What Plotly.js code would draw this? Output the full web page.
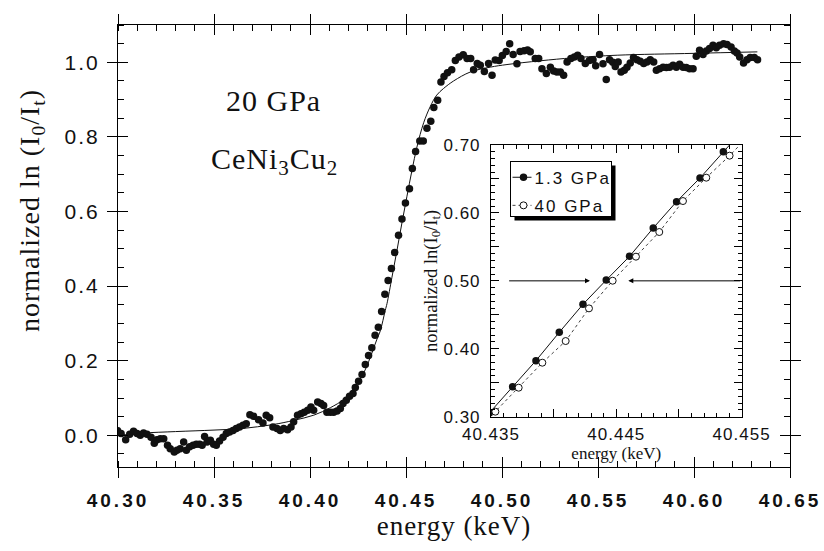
<!DOCTYPE html>
<html>
<head>
<meta charset="utf-8">
<script src="https://cdn.plot.ly/plotly-3.0.1.min.js"></script>
<style>
  html, body { margin: 0; padding: 0; background: #fff; }
  #chart { width: 824px; height: 551px; }
  .xtick text { letter-spacing: 3px; }
  .ytick text { letter-spacing: 2px; }
  .x2tick text, .y2tick text { letter-spacing: 1px; }
  .legendtext { letter-spacing: 2px; }
  .g-xtitle text { letter-spacing: 1px; }
  .annotation-text { letter-spacing: 1px; }
</style>
</head>
<body>
<div id="chart"></div>
<script>
// ---- 20 GPa edge scan (normalized absorption vs energy) ----
const energy = [
  40.2998, 40.3016, 40.3040, 40.3061, 40.3081, 40.3099, 40.3116, 40.3133, 40.3151, 40.3172,
  40.3189, 40.3203, 40.3220, 40.3238, 40.3258, 40.3272, 40.3293, 40.3307, 40.3324, 40.3342,
  40.3356, 40.3373, 40.3391, 40.3408, 40.3425, 40.3438, 40.3451, 40.3464, 40.3481, 40.3498,
  40.3512, 40.3529, 40.3547, 40.3564, 40.3581, 40.3599, 40.3616, 40.3633, 40.3651, 40.3668,
  40.3687, 40.3706, 40.3732, 40.3755, 40.3772, 40.3790, 40.3807, 40.3828, 40.3845, 40.3863,
  40.3883, 40.3901, 40.3915, 40.3935, 40.3953, 40.3970, 40.3988, 40.4005, 40.4019, 40.4040,
  40.4057, 40.4071, 40.4088, 40.4106, 40.4123, 40.4141, 40.4158, 40.4172, 40.4189, 40.4206,
  40.4224, 40.4236, 40.4253, 40.4271, 40.4288, 40.4305, 40.4322, 40.4339, 40.4356, 40.4373,
  40.4390, 40.4407, 40.4424, 40.4441, 40.4461, 40.4479, 40.4497, 40.4518, 40.4533, 40.4550,
  40.4572, 40.4590, 40.4609, 40.4629, 40.4645, 40.4665, 40.4682, 40.4698, 40.4716, 40.4738,
  40.4757, 40.4776, 40.4798, 40.4818, 40.4837, 40.4852, 40.4871, 40.4887, 40.4908, 40.4930,
  40.4948, 40.4965, 40.4985, 40.5002, 40.5022, 40.5040, 40.5058, 40.5078, 40.5094, 40.5115,
  40.5133, 40.5147, 40.5173, 40.5191, 40.5208, 40.5231, 40.5252, 40.5269, 40.5286, 40.5304,
  40.5321, 40.5339, 40.5359, 40.5377, 40.5394, 40.5411, 40.5434, 40.5455, 40.5474, 40.5488,
  40.5508, 40.5526, 40.5543, 40.5560, 40.5577, 40.5590, 40.5605, 40.5620, 40.5637, 40.5651,
  40.5668, 40.5685, 40.5703, 40.5720, 40.5738, 40.5755, 40.5772, 40.5790, 40.5804, 40.5821,
  40.5839, 40.5856, 40.5873, 40.5891, 40.5908, 40.5925, 40.5943, 40.5960, 40.5977, 40.5995,
  40.6012, 40.6029, 40.6047, 40.6064, 40.6081, 40.6099, 40.6116, 40.6133, 40.6154, 40.6172,
  40.6193, 40.6210, 40.6224, 40.6238, 40.6258, 40.6276, 40.6293, 40.6314, 40.6331
];
const absorption = [
  0.012, 0.005, -0.012, 0.003, 0.011, 0.005, 0.000, 0.006, 0.003, -0.005,
  -0.021, -0.012, -0.009, -0.009, -0.027, -0.036, -0.045, -0.040, -0.036, -0.018,
  -0.040, -0.031, -0.027, -0.024, -0.024, -0.027, -0.003, -0.018, -0.013, -0.024,
  -0.027, -0.015, -0.005, 0.005, 0.009, 0.013, 0.018, 0.022, 0.027, 0.031,
  0.055, 0.051, 0.042, 0.033, 0.054, 0.047, 0.022, 0.018, 0.013, 0.018,
  0.015, 0.022, 0.036, 0.054, 0.058, 0.062, 0.067, 0.076, 0.067, 0.089,
  0.085, 0.080, 0.062, 0.062, 0.062, 0.065, 0.072, 0.085, 0.094, 0.105,
  0.112, 0.128, 0.145, 0.163, 0.190, 0.214, 0.235, 0.268, 0.290, 0.332,
  0.378, 0.415, 0.447, 0.490, 0.536, 0.580, 0.623, 0.661, 0.715, 0.761,
  0.789, 0.789, 0.823, 0.842, 0.879, 0.898, 0.947, 0.962, 0.972, 0.980,
  1.005, 1.014, 1.020, 1.010, 1.010, 0.980, 0.997, 0.992, 0.975, 0.997,
  0.965, 1.006, 1.005, 1.018, 1.029, 1.050, 1.021, 0.996, 1.029, 1.031,
  1.033, 1.028, 1.010, 1.010, 0.983, 0.970, 0.987, 0.977, 0.974, 0.974,
  0.965, 1.001, 1.010, 1.014, 1.019, 1.010, 0.997, 1.005, 1.007, 0.991,
  1.021, 0.996, 0.954, 1.007, 1.000, 0.989, 1.001, 0.974, 0.979, 0.987,
  0.998, 1.013, 1.007, 1.003, 0.997, 1.001, 1.007, 1.001, 0.979, 0.983,
  0.987, 0.986, 0.987, 0.992, 0.987, 0.995, 0.987, 0.986, 0.983, 0.983,
  1.016, 1.032, 1.021, 1.030, 1.037, 1.046, 1.039, 1.046, 1.050, 1.048,
  1.041, 1.030, 1.025, 1.014, 0.998, 1.007, 1.013, 1.013, 1.007
];

// fitted edge profile
const fitEnergy = [
  40.300, 40.313, 40.330, 40.350, 40.364, 40.381, 40.3915, 40.402, 40.4106, 40.4175,
  40.4227, 40.428, 40.4305, 40.4349, 40.4366, 40.4392, 40.4401, 40.4427, 40.4453, 40.4479,
  40.4505, 40.4531, 40.4557, 40.4592, 40.4627, 40.4660, 40.4696, 40.4748, 40.4835, 40.4939,
  40.5026, 40.5199, 40.537, 40.560, 40.600, 40.633
];
const fitAbsorption = [
  0.000, 0.006, 0.010, 0.014, 0.018, 0.029, 0.040, 0.054, 0.074, 0.096,
  0.125, 0.168, 0.197, 0.258, 0.280, 0.335, 0.353, 0.424, 0.496, 0.570,
  0.641, 0.710, 0.773, 0.838, 0.882, 0.912, 0.930, 0.950, 0.974, 0.987,
  0.994, 1.004, 1.012, 1.019, 1.024, 1.028
];

// ---- edge detail: 1.3 GPa vs 40 GPa ----
const lowPEnergy = [40.43487, 40.43673, 40.43859, 40.44045, 40.44234, 40.44420, 40.44606, 40.44795, 40.44981, 40.45168, 40.45354, 40.45540];
const lowPAbs    = [0.3055, 0.3442, 0.3825, 0.4242, 0.4654, 0.5012, 0.5361, 0.5778, 0.6166, 0.6514, 0.6902, 0.7280];
const highPEnergy = [40.43349, 40.43535, 40.43721, 40.43910, 40.44096, 40.44282, 40.44471, 40.44657, 40.44843, 40.45032, 40.45218, 40.45404, 40.45590];
const highPAbs    = [0.2720, 0.3074, 0.3427, 0.3795, 0.4114, 0.4595, 0.5002, 0.5356, 0.5719, 0.6175, 0.6519, 0.6843, 0.7200];

// half-height markers: where each arrow points
const halfLevel = 0.50;
const arrowLeft  = { from: 40.43633, to: 40.4429 };
const arrowRight = { from: 40.455,   to: 40.44596 };

const mainXTicks = [40.30, 40.35, 40.40, 40.45, 40.50, 40.55, 40.60, 40.65];
const mainXLabels = ['40.30', '40.35', '40.40', '40.45', '40.50', '40.55', '40.60', '40.65'];
const mainYTicks = [0.0, 0.2, 0.4, 0.6, 0.8, 1.0];
const mainYLabels = ['0.0', '0.2', '0.4', '0.6', '0.8', '1.0'];

const SANS = 'Liberation Sans, Arial, sans-serif';
const SERIF = 'Liberation Serif, Times New Roman, serif';

// page geometry
const W = 824, H = 551;
const M = { l: 118, r: 34, t: 25, b: 84 };
const PW = W - M.l - M.r, PH = H - M.t - M.b;
const px2x = function (px) { return (px - M.l) / PW; };
const px2y = function (py) { return (H - M.b - py) / PH; };
// legend frame (page pixels) and its drop shadow offset
const LEG = { left: 510.5, top: 161.5, right: 611.5, bottom: 216.5 };
const SHADOW = 4;

const traces = [
  { x: fitEnergy, y: fitAbsorption, mode: 'lines', line: { color: '#111', width: 1, shape: 'spline' },
    showlegend: false, hoverinfo: 'skip' },
  { x: energy, y: absorption, mode: 'markers', marker: { color: '#111', size: 7.5 },
    showlegend: false },
  { x: lowPEnergy, y: lowPAbs, xaxis: 'x2', yaxis: 'y2', name: '1.3 GPa', mode: 'lines+markers',
    legendgroup: 'a', line: { color: '#111', width: 1 }, marker: { color: '#111', size: 7.5 } },
  { x: highPEnergy, y: highPAbs, xaxis: 'x2', yaxis: 'y2', name: '40 GPa', mode: 'lines+markers',
    legendgroup: 'b', line: { color: '#444', width: 1, dash: 'dot' },
    marker: { color: '#fff', size: 7, line: { color: '#111', width: 1 } } },
  // carriers for the inward halves of the main axis ticks
  { x: [], y: [], xaxis: 'x3', yaxis: 'y', showlegend: false },
  { x: [], y: [], xaxis: 'x', yaxis: 'y3', showlegend: false }
];

const layout = {
  width: W, height: H,
  margin: M,
  paper_bgcolor: '#fff', plot_bgcolor: '#fff',
  showlegend: true,
  xaxis: {
    range: [40.30, 40.65], tickmode: 'array', tickvals: mainXTicks, ticktext: mainXLabels,
    showline: true, linecolor: '#000', linewidth: 1, mirror: 'ticks', showgrid: false, zeroline: false,
    ticks: 'outside', ticklen: 10, tickwidth: 1, tickcolor: '#000',
    minor: { tick0: 40.30, dtick: 0.01, ticks: 'inside', ticklen: 6, tickwidth: 1, tickcolor: '#000', showgrid: false },
    tickfont: { family: SANS, size: 19, color: '#111', weight: 'bold' },
    ticklabelstandoff: 6,
    title: { text: 'energy (keV)', font: { family: SERIF, size: 27, color: '#111' }, standoff: 6 }
  },
  yaxis: {
    range: [-0.085, 1.1], tickmode: 'array', tickvals: mainYTicks, ticktext: mainYLabels,
    showline: true, linecolor: '#000', linewidth: 1, mirror: 'ticks', showgrid: false, zeroline: false,
    ticks: 'outside', ticklen: 10, tickwidth: 1, tickcolor: '#000',
    minor: { tick0: 0, dtick: 0.05, ticks: 'inside', ticklen: 6, tickwidth: 1, tickcolor: '#000', showgrid: false },
    tickfont: { family: SANS, size: 21, color: '#111' },
    ticklabelstandoff: 3
  },
  xaxis3: {
    overlaying: 'x', anchor: 'y', side: 'bottom', range: [40.30, 40.65],
    tickmode: 'array', tickvals: mainXTicks, showticklabels: false,
    ticks: 'inside', ticklen: 10, tickwidth: 1, tickcolor: '#000',
    showline: false, mirror: 'ticks', showgrid: false, zeroline: false
  },
  yaxis3: {
    overlaying: 'y', anchor: 'x', side: 'left', range: [-0.085, 1.1],
    tickmode: 'array', tickvals: mainYTicks, showticklabels: false,
    ticks: 'inside', ticklen: 10, tickwidth: 1, tickcolor: '#000',
    showline: false, mirror: 'ticks', showgrid: false, zeroline: false
  },
  xaxis2: {
    domain: [0.555, 0.928], anchor: 'y2', range: [40.435, 40.455],
    tickmode: 'linear', tick0: 40.435, dtick: 0.005, ticklabelstep: 2, tickformat: '.3f',
    showline: true, linecolor: '#000', linewidth: 1, mirror: 'ticks', showgrid: false, zeroline: false,
    ticks: 'inside', ticklen: 8, tickwidth: 1, tickcolor: '#000',
    minor: { tick0: 40.435, dtick: 0.001, ticks: 'inside', ticklen: 4, tickwidth: 1, tickcolor: '#000', showgrid: false },
    tickfont: { family: SANS, size: 17, color: '#111' },
    ticklabelstandoff: 2,
    title: { text: 'energy (keV)', font: { family: SERIF, size: 17, color: '#111' }, standoff: 1 }
  },
  yaxis2: {
    domain: [0.1138, 0.7285], anchor: 'x2', range: [0.30, 0.70],
    tickmode: 'linear', tick0: 0.30, dtick: 0.05, ticklabelstep: 2, tickformat: '.2f',
    showline: true, linecolor: '#000', linewidth: 1, mirror: 'ticks', showgrid: false, zeroline: false,
    ticks: 'inside', ticklen: 8, tickwidth: 1, tickcolor: '#000',
    minor: { tick0: 0.30, dtick: 0.01, ticks: 'inside', ticklen: 4, tickwidth: 1, tickcolor: '#000', showgrid: false },
    tickfont: { family: SANS, size: 17, color: '#111' },
    ticklabelstandoff: 6,
    title: { text: 'normalized ln(I<sub>0</sub>/I<sub>t</sub>)', font: { family: SERIF, size: 18.5, color: '#111' }, standoff: 0 }
  },
  legend: {
    x: px2x(LEG.left), y: 0.6975, xanchor: 'left', yanchor: 'top', xref: 'paper', yref: 'paper',
    bgcolor: '#fff', bordercolor: '#000', borderwidth: 1,
    font: { family: SANS, size: 17, color: '#111' },
    itemwidth: 30, tracegroupgap: 3
  },
  shapes: [{
    // drop shadow of the legend frame
    type: 'rect', xref: 'paper', yref: 'paper', layer: 'above',
    x0: px2x(LEG.left + SHADOW), x1: px2x(LEG.right + SHADOW),
    y0: px2y(LEG.bottom + SHADOW), y1: px2y(LEG.top + SHADOW),
    fillcolor: '#000', line: { width: 0 }
  }],
  annotations: [
    // main vertical axis title
    { xref: 'paper', yref: 'paper', x: -0.1295, y: 0.5814, xanchor: 'center', yanchor: 'middle',
      textangle: -90, showarrow: false, text: 'normalized ln (I<sub>0</sub>/I<sub>t</sub>)',
      font: { family: SERIF, size: 28, color: '#111' } },
    { xref: 'x', yref: 'y', x: 40.3809, y: 0.898, text: '20 GPa', showarrow: false,
      font: { family: SERIF, size: 30, color: '#111' } },
    { xref: 'x', yref: 'y', x: 40.3814, y: 0.735, text: 'CeNi<sub>3</sub>Cu<sub>2</sub>', showarrow: false,
      font: { family: SERIF, size: 30, color: '#111' } },
    { xref: 'x2', yref: 'y2', axref: 'x2', ayref: 'y2', x: arrowLeft.to, y: halfLevel, ax: arrowLeft.from, ay: halfLevel,
      text: '', showarrow: true, arrowhead: 2, arrowsize: 1, arrowwidth: 1, arrowcolor: '#000', standoff: 0 },
    { xref: 'x2', yref: 'y2', axref: 'x2', ayref: 'y2', x: arrowRight.to, y: halfLevel, ax: arrowRight.from, ay: halfLevel,
      text: '', showarrow: true, arrowhead: 2, arrowsize: 1, arrowwidth: 1, arrowcolor: '#000', standoff: 0 }
  ]
};

// compact legend: short sample lines, frame fitted to LEG
function tightenLegend(gd) {
  const leg = gd.querySelector('.legend');
  if (!leg) return;
  const bg = leg.querySelector('rect.bg');
  leg.querySelectorAll('.legendtext').forEach(function (t) { t.setAttribute('x', 23); });
  leg.querySelectorAll('.legendlines path').forEach(function (p) { p.setAttribute('d', 'M1,0h19'); });
  leg.querySelectorAll('.legendpoints path.scatterpts').forEach(function (p) {
    p.setAttribute('transform', 'translate(12,0)');
  });
  const page = gd.getBoundingClientRect();
  const r = bg.getBoundingClientRect();
  const bx = parseFloat(bg.getAttribute('x') || 0);
  const by = parseFloat(bg.getAttribute('y') || 0);
  bg.setAttribute('x', bx + (LEG.left - (r.left - page.left)));
  bg.setAttribute('y', by + (LEG.top - (r.top - page.top)));
  bg.setAttribute('width', LEG.right - LEG.left);
  bg.setAttribute('height', LEG.bottom - LEG.top);
}

Plotly.newPlot('chart', traces, layout, { displayModeBar: false, staticPlot: true }).then(tightenLegend);
</script>
</body>
</html>
